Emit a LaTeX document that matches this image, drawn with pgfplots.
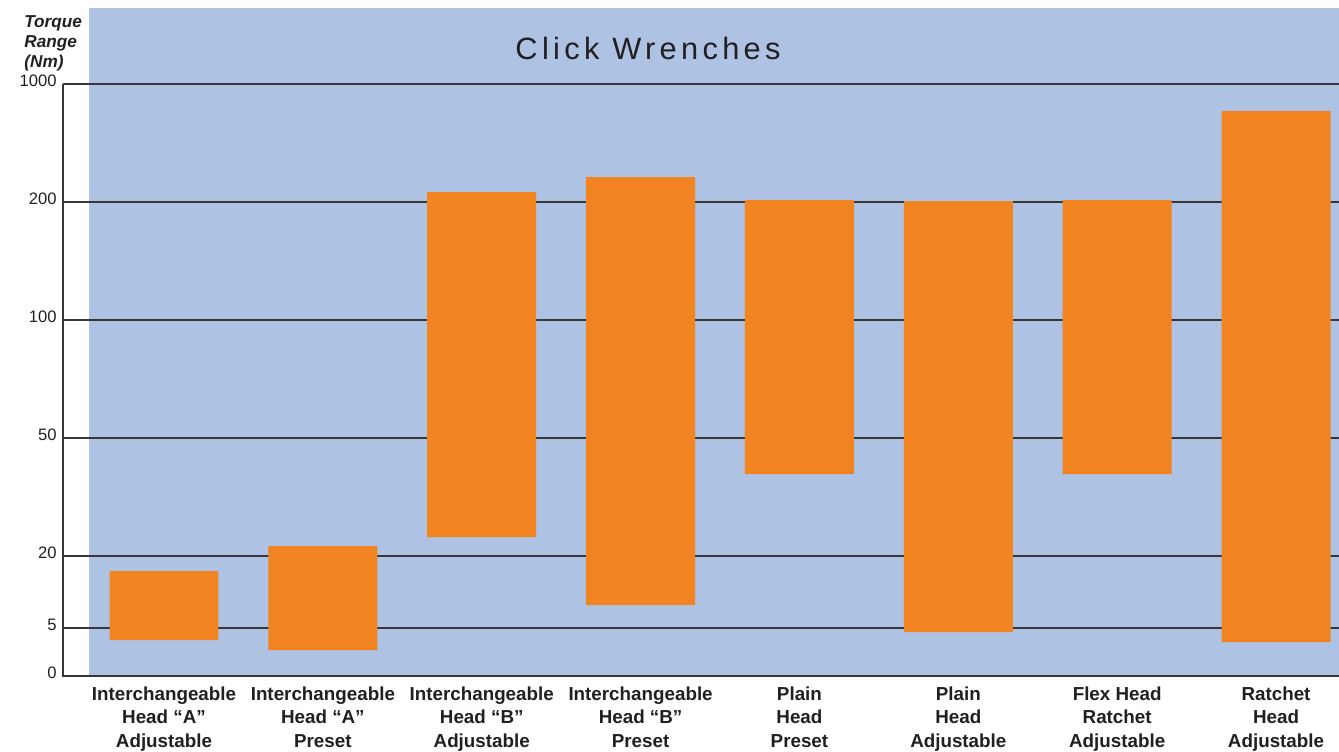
\documentclass[border=0pt]{standalone}
\usepackage{pgfplots}
\pgfplotsset{compat=1.18}
\usepackage{pgfplotstable}
\usepackage{fontspec}
\setmainfont{Liberation Sans}
\definecolor{bgblue}{RGB}{174,195,228}
\definecolor{barorange}{RGB}{242,131,33}
\definecolor{gridgray}{RGB}{55,55,55}
\definecolor{txt}{RGB}{35,31,32}

% bar extents on the chart's own (non-uniform) torque scale, measured from the 0 line
\pgfplotstableread{
x lo hi
0 36 105
1 26 130
2 139 484
3 71 499
4 202 476
5 44 475
6 202 476
7 34 565
}\bars

\begin{document}
\begin{tikzpicture}
\begin{axis}[
  scale only axis, width=638pt, height=334pt,
  xmin=-0.6358, xmax=7.3965, ymin=0, ymax=668,
  clip=false,
  axis line style={draw=none},
  major tick length=0pt,
  ytick={0,48,120,238,356,474,592},
  yticklabels={0,5,20,50,100,200,1000},
  yticklabel style={inner sep=0pt, xshift=-3pt, yshift=1.5pt, text=txt,
     font=\fontsize{8.3}{10}\selectfont},
  xtick={0,...,7},
  xticklabels={{Interchangeable\\Head “A”\\Adjustable},
               {Interchangeable\\Head “A”\\Preset},
               {Interchangeable\\Head “B”\\Adjustable},
               {Interchangeable\\Head “B”\\Preset},
               {Plain\\Head\\Preset},
               {Plain\\Head\\Adjustable},
               {Flex Head\\Ratchet\\Adjustable},
               {Ratchet\\Head\\Adjustable}},
  xticklabel style={align=center, inner sep=0pt, yshift=-5pt, text=txt,
     font=\bfseries\fontsize{9.4}{11.75}\selectfont},
  ybar stacked, reverse stacked plots=false, bar width=0.686,
]
% background panel
\fill[bgblue] (axis cs:-0.4721,0) rectangle (axis cs:7.3965,668);
% grid lines
\pgfplotsinvokeforeach{48,120,238,356,474,592}{
  \draw[gridgray, line width=0.6pt] (axis cs:-0.6358,#1) -- (axis cs:7.3965,#1);
}
\draw[gridgray, line width=0.7pt] (axis cs:-0.6358,592) -- (axis cs:-0.6358,0) -- (axis cs:7.3965,0);

\addplot[draw=none, fill=none] table[x=x, y=lo]{\bars};
\addplot[draw=none, fill=barorange] table[x=x, y expr=\thisrow{hi}-\thisrow{lo}]{\bars};

\node[text=txt, font=\fontsize{15.4}{18}\selectfont] at (rel axis cs:0.4585,0.940)
  {\addfontfeatures{LetterSpace=14}Click Wrenches};
\node[anchor=north west, align=left, inner sep=0pt, text=txt,
  font=\bfseries\itshape\fontsize{8.6}{10}\selectfont] at (rel axis cs:-0.0306,0.9895)
  {Torque\\Range\\(Nm)};

\coordinate (bbsw) at (rel axis cs:-0.04937,-0.11228);
\coordinate (bbne) at (rel axis cs:1,1.01198);
\end{axis}
\pgfresetboundingbox
\useasboundingbox (bbsw) rectangle (bbne);
\end{tikzpicture}
\end{document}
